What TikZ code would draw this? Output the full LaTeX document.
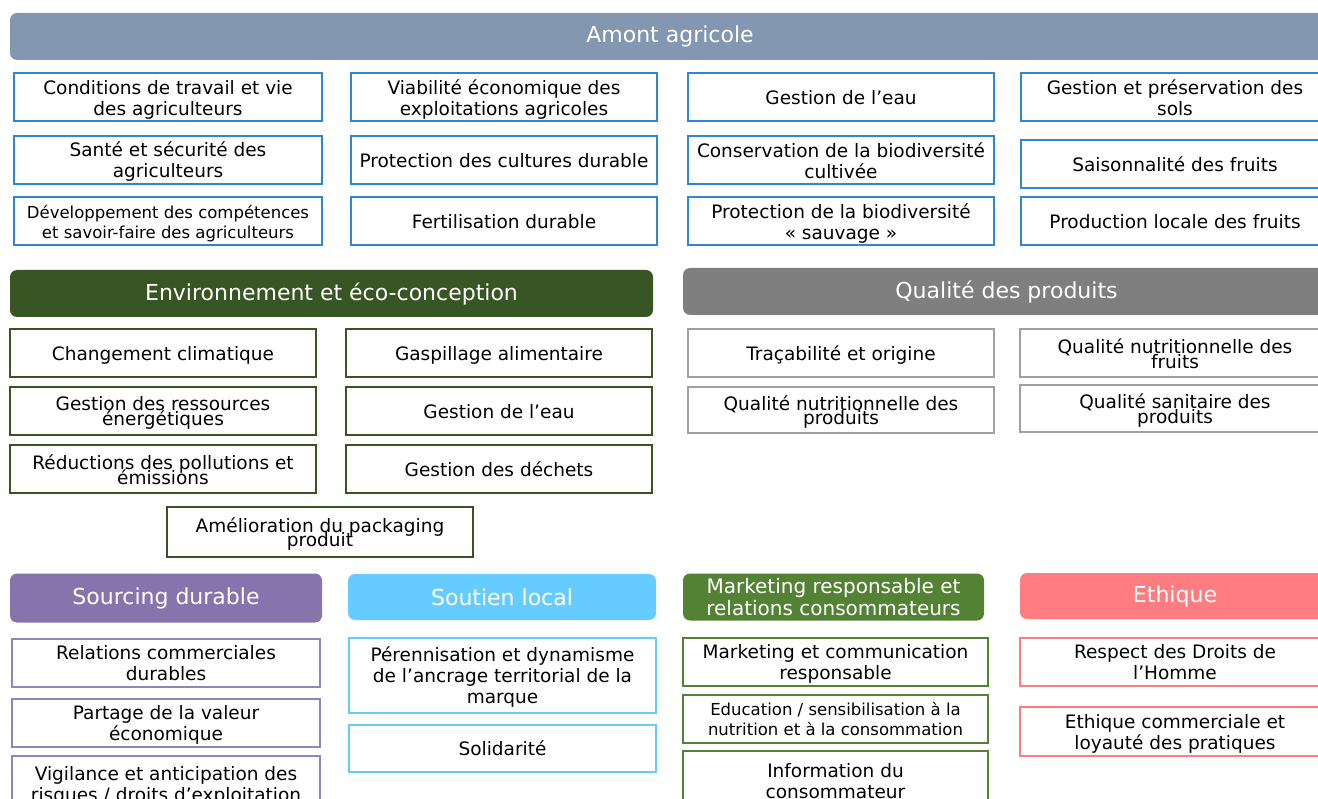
\documentclass[tikz,border=0pt]{standalone}
\usepackage{fontspec}
\setmainfont{DejaVu Sans}
\usepackage{xcolor}
\usepackage{tikz}

\definecolor{amont}{HTML}{8497B0}
\definecolor{amontbd}{HTML}{2E86D6}
\definecolor{envi}{HTML}{375623}
\definecolor{qual}{HTML}{7F7F7F}
\definecolor{qualbd}{HTML}{A0A0A0}
\definecolor{sourc}{HTML}{8874AC}
\definecolor{sourcbd}{HTML}{9484BC}
\definecolor{soutien}{HTML}{66CCFF}
\definecolor{market}{HTML}{548235}
\definecolor{ethique}{HTML}{FF7C80}

\begin{document}
\begin{tikzpicture}[x=1pt, y=-1pt,
    head/.style = {rounded corners=7pt, text=white, inner sep=0pt, align=center,
                   minimum height=47pt, font=\fontsize{22}{22}\selectfont},
    main/.style = {line width=2pt, fill=white, inner sep=0pt, align=center, text depth=-5pt,
                   minimum width=306pt, minimum height=48pt, font=\fontsize{18.5}{21}\selectfont},
    squeezed/.style = {font={\fontsize{18.5}{14.5}\selectfont\lineskiplimit-20pt\relax}},
    small/.style = {font=\fontsize{16.5}{20}\selectfont}]
    \useasboundingbox (0,0) rectangle (1318,799);
    \clip (0,0) rectangle (1318,799);

    % Amont agricole
    \node[head, fill=amont, minimum width=1320pt] (amont) at (670,36.5) {Amont agricole};
    \node[main, draw=amontbd, minimum width=308pt] (a1) at (168,97.5)  {Conditions de travail et vie\\des agriculteurs};
    \node[main, draw=amontbd, minimum width=308pt] (a2) at (168,160)   {Santé et sécurité des\\agriculteurs};
    \node[main, draw=amontbd, minimum width=308pt, small] (a3) at (168,221.5) {Développement des compétences\\et savoir-faire des agriculteurs};
    \node[main, draw=amontbd] (a4) at (504,97.5)  {Viabilité économique des\\exploitations agricoles};
    \node[main, draw=amontbd] (a5) at (504,160)   {Protection des cultures durable};
    \node[main, draw=amontbd] (a6) at (504,221.5) {Fertilisation durable};
    \node[main, draw=amontbd] (a7) at (841,97.5)  {Gestion de l’eau};
    \node[main, draw=amontbd] (a8) at (841,160.5) {Conservation de la biodiversité\\cultivée};
    \node[main, draw=amontbd] (a9) at (841,221.5) {Protection de la biodiversité\\« sauvage »};
    \node[main, draw=amontbd, minimum width=308pt] (a10) at (1175,97.5)  {Gestion et préservation des\\sols};
    \node[main, draw=amontbd, minimum width=308pt] (a11) at (1175,164)   {Saisonnalité des fruits};
    \node[main, draw=amontbd, minimum width=308pt] (a12) at (1175,221.5) {Production locale des fruits};

    % Environnement
    \node[head, fill=envi, minimum width=643pt] (envi) at (331.5,293.5) {Environnement et éco-conception};
    \node[main, draw=envi] (e1) at (163,353)   {Changement climatique};
    \node[main, draw=envi, squeezed] (e2) at (163,411)   {Gestion des ressources\\énergétiques};
    \node[main, draw=envi, squeezed] (e3) at (163,469.5) {Réductions des pollutions et\\émissions};
    \node[main, draw=envi] (e4) at (499,353)   {Gaspillage alimentaire};
    \node[main, draw=envi] (e5) at (499,411)   {Gestion de l’eau};
    \node[main, draw=envi] (e6) at (499,469.5) {Gestion des déchets};
    \node[main, draw=envi, squeezed, minimum height=50pt] (e7) at (320,532) {Amélioration du packaging\\produit};

    % Qualite
    \node[head, fill=qual, minimum width=647pt] (qual) at (1006.5,291.5) {Qualité des produits};
    \node[main, draw=qualbd] (q1) at (841,353.5) {Traçabilité et origine};
    \node[main, draw=qualbd, squeezed, minimum height=46pt] (q2) at (841,410) {Qualité nutritionnelle des\\produits};
    \node[main, draw=qualbd, squeezed, minimum width=310pt] (q3) at (1175,353.5) {Qualité nutritionnelle des\\fruits};
    \node[main, draw=qualbd, squeezed, minimum width=310pt, minimum height=47pt] (q4) at (1175,408.5) {Qualité sanitaire des\\produits};

    % Sourcing durable
    \node[head, fill=sourc, minimum width=312pt, minimum height=49pt] (sourc) at (166,598) {Sourcing durable};
    \node[main, draw=sourcbd, minimum width=308pt] (s1) at (166,662.5) {Relations commerciales\\durables};
    \node[main, draw=sourcbd, minimum width=308pt] (s2) at (166,723)   {Partage de la valeur\\économique};
    \node[main, draw=sourcbd, minimum width=308pt, minimum height=56pt] (s3) at (166,784) {Vigilance et anticipation des\\risques / droits d’exploitation};

    % Soutien local
    \node[head, fill=soutien, minimum width=308pt, minimum height=46pt] (soutien) at (502,597) {Soutien local};
    \node[main, draw=soutien, minimum width=307pt, minimum height=75pt] (l1) at (502.5,675.5) {Pérennisation et dynamisme\\de l’ancrage territorial de la\\marque};
    \node[main, draw=soutien, minimum width=307pt, minimum height=47pt] (l2) at (502.5,748.5) {Solidarité};

    % Marketing
    \node[head, fill=market, minimum width=301pt, font=\fontsize{20}{22}\selectfont] (market) at (833.5,597) {Marketing responsable et\\relations consommateurs};
    \node[main, draw=market, minimum width=305pt] (m1) at (835.5,662) {Marketing et communication\\responsable};
    \node[main, draw=market, minimum width=305pt, small] (m2) at (835.5,719) {Education / sensibilisation à la\\nutrition et à la consommation};
    \node[main, draw=market, minimum width=305pt, minimum height=59pt] (m3) at (835.5,780.5) {Information du\\consommateur};

    % Ethique
    \node[head, fill=ethique, minimum width=310pt, minimum height=46pt] (ethique) at (1175,596) {Ethique};
    \node[main, draw=ethique, minimum width=310pt] (t1) at (1175,662)   {Respect des Droits de\\l’Homme};
    \node[main, draw=ethique, minimum width=310pt, minimum height=49pt] (t2) at (1175,731.5) {Ethique commerciale et\\loyauté des pratiques};
\end{tikzpicture}
\end{document}
